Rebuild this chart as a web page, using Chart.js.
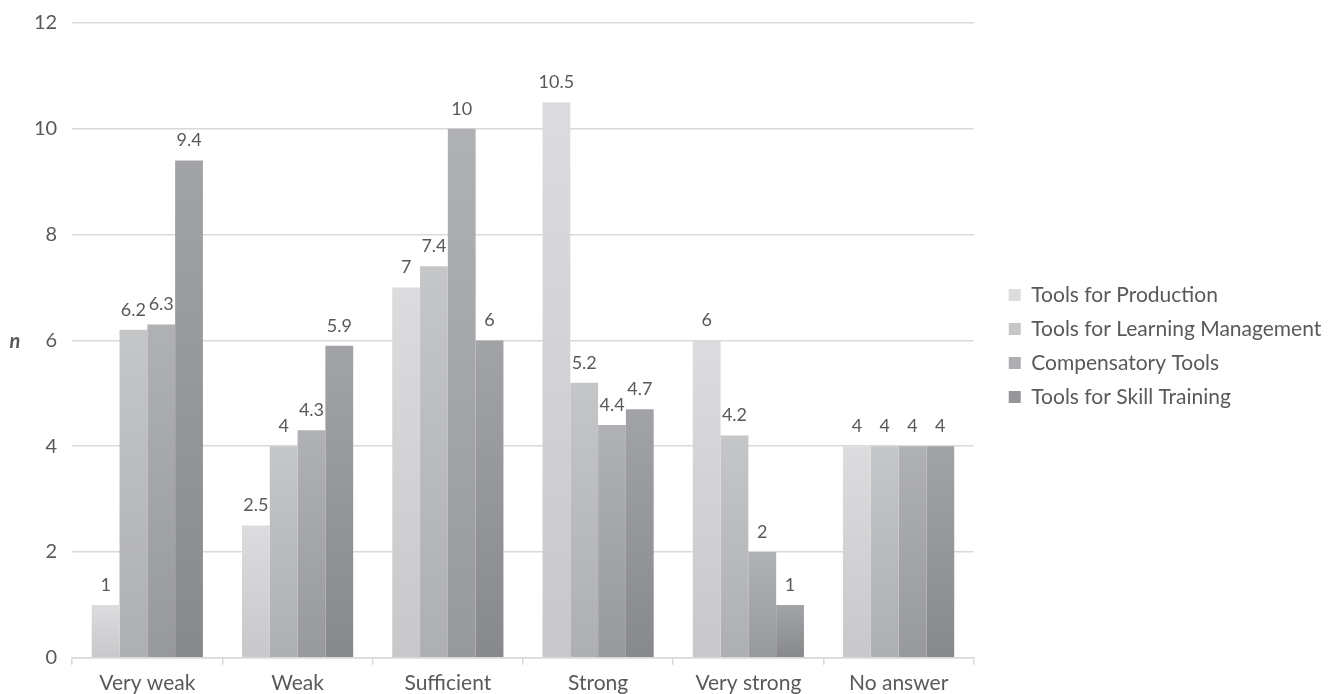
<!DOCTYPE html>
<html>
<head>
<meta charset="utf-8">
<script src="https://cdn.jsdelivr.net/npm/chart.js"></script>
<style>
  html, body { margin: 0; padding: 0; background: #fff; }
  #wrap { width: 1328px; height: 694px; }
</style>
</head>
<body>
<div id="wrap"><canvas id="barChart"></canvas></div>
<script>
    // Rating categories along the x axis
    const categories = ['Very weak', 'Weak', 'Sufficient', 'Strong', 'Very strong', 'No answer'];

    // Series values (n)
    const production = [1, 2.5, 7, 10.5, 6, 4];
    const learningManagement = [6.2, 4, 7.4, 5.2, 4.2, 4];
    const compensatory = [6.3, 4.3, 10, 4.4, 2, 4];
    const skillTraining = [9.4, 5.9, 6, 4.7, 1, 4];

    const seriesNames = ['Tools for Production', 'Tools for Learning Management', 'Compensatory Tools', 'Tools for Skill Training'];
    const yTicks = [0, 2, 4, 6, 8, 10, 12];

    const textColor = '#595959';
    const fontFamily = 'Lato, "Open Sans", sans-serif';

    // top / bottom shades of each series' gradient
    const shades = [
        ['#dcdcde', '#c8c8ca'],
        ['#c5c6c8', '#aeafb2'],
        ['#b0b1b4', '#98999c'],
        ['#a2a3a6', '#88898c']
    ];

    function gradientFill(i) {
        return function(ctx) {
            const chart = ctx.chart;
            if (!chart.chartArea || ctx.raw === undefined) {
                return shades[i][1];
            }
            const y = chart.scales.y;
            const top = y.getPixelForValue(ctx.raw);
            const bottom = y.getPixelForValue(0);
            if (!isFinite(top) || top === bottom) return shades[i][0];
            const g = chart.ctx.createLinearGradient(0, top, 0, bottom);
            g.addColorStop(0, shades[i][0]);
            g.addColorStop(1, shades[i][1]);
            return g;
        };
    }

    // value labels above each bar + the horizontal "n" axis title
    const valueLabels = {
        id: 'valueLabels',
        afterDatasetsDraw(chart) {
            const ctx = chart.ctx;
            ctx.save();
            ctx.fillStyle = textColor;
            ctx.font = '18px ' + fontFamily;
            ctx.textAlign = 'center';
            ctx.textBaseline = 'middle';
            chart.data.datasets.forEach((ds, di) => {
                chart.getDatasetMeta(di).data.forEach((bar, idx) => {
                    ctx.fillText(String(ds.data[idx]), bar.x, bar.y - 20);
                });
            });
            ctx.font = 'italic bold 20px ' + fontFamily;
            ctx.fillText('n', 15, chart.scales.y.getPixelForValue(6) + 1);
            ctx.restore();
        }
    };

    // push the legend a bit away from the plot
    const legendGap = {
        id: 'legendGap',
        beforeInit(chart) {
            const fit = chart.legend.fit;
            chart.legend.fit = function() {
                fit.call(this);
                this.width += 27;
            };
        },
        afterLayout(chart) {
            chart.legend.left += 22;
            chart.legend.top -= 10;
        }
    };

    const seriesData = [production, learningManagement, compensatory, skillTraining];

    const barCtx = document.getElementById('barChart').getContext('2d');
    new Chart(barCtx, {
        type: 'bar',
        data: {
            labels: categories,
            datasets: seriesData.map((d, i) => ({
                label: seriesNames[i],
                data: d,
                backgroundColor: gradientFill(i),
                borderWidth: 0,
                categoryPercentage: 0.74,
                barPercentage: 1.0
            }))
        },
        options: {
            responsive: true,
            maintainAspectRatio: false,
            animation: false,
            layout: {
                padding: { top: 0, right: 0, bottom: -8, left: 19 }
            },
            scales: {
                x: {
                    grid: {
                        display: true,
                        drawOnChartArea: false,
                        offset: true,
                        tickLength: 7,
                        color: '#d9d9d9',
                        lineWidth: 1.5
                    },
                    border: { display: true, color: '#d9d9d9', width: 1.5 },
                    ticks: {
                        color: textColor,
                        font: { family: fontFamily, size: 21 },
                        padding: 6
                    }
                },
                y: {
                    min: 0,
                    max: 12,
                    afterBuildTicks(axis) {
                        axis.ticks = yTicks.map(v => ({ value: v }));
                    },
                    grid: {
                        color: '#d9d9d9',
                        lineWidth: 1.5,
                        drawTicks: false
                    },
                    border: { display: false },
                    ticks: {
                        color: textColor,
                        font: { family: fontFamily, size: 20, lineHeight: 0.8 },
                        padding: 15
                    }
                }
            },
            plugins: {
                legend: {
                    position: 'right',
                    align: 'center',
                    labels: {
                        color: textColor,
                        font: { family: fontFamily, size: 21 },
                        boxWidth: 12,
                        boxHeight: 12,
                        padding: 13
                    }
                },
                tooltip: { enabled: false }
            }
        },
        plugins: [valueLabels, legendGap]
    });
</script>
</body>
</html>
